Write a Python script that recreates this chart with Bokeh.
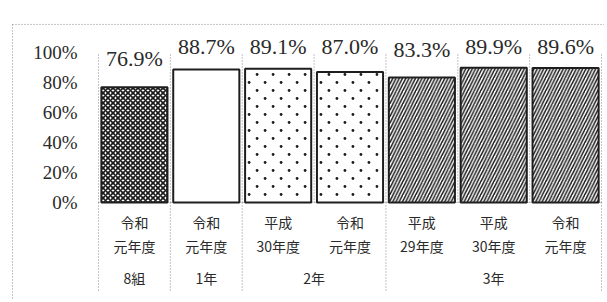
import numpy as np
from bokeh.plotting import figure
from bokeh.models import Range1d
from bokeh.core.properties import value
from bokeh.embed import file_html
from bokeh.resources import INLINE

# ---- data ----
row1 = ["令和", "令和", "平成", "令和", "平成", "平成", "令和"]
row2 = ["元年度", "元年度", "30年度", "元年度", "29年度", "30年度", "元年度"]
groups = ["8組", "1年", "2年", "3年"]
group_members = [[0], [1], [2, 3], [4, 5, 6]]
rates = [76.9, 88.7, 89.1, 87.0, 83.3, 89.9, 89.6]
rate_labels = ["76.9%", "88.7%", "89.1%", "87.0%", "83.3%", "89.9%", "89.6%"]
yticks = [0, 20, 40, 60, 80, 100]
ytick_labels = ["0%", "20%", "40%", "60%", "80%", "100%"]
patterns = ["x", " ", ".", ".", "/", "/", "/"]

n = len(rates)
xs = np.arange(n)
vals = np.array(rates)

W, H = 604, 300
px_per_cat = 71.86
px_per_pct = 1.5
x0 = -0.5 - 98 / px_per_cat
y1 = 202 / px_per_pct
ybot = y1 - H / px_per_pct
p = figure(width=W, height=H, output_backend="svg", toolbar_location=None,
           x_range=Range1d(x0, x0 + W / px_per_cat),
           y_range=Range1d(ybot, y1),
           min_border=0, outline_line_color=None)
p.axis.visible = False
p.grid.visible = False
p.background_fill_color = "white"
p.border_fill_color = "white"

dot = dict(line_color="#8a8a8a", line_width=1, line_dash="1 2")
serif = value("Liberation Serif")
cjk = value("Noto Sans CJK JP")

# outer frame (top and left)
top_v = 118.7
left_x = x0 + 12 / px_per_cat
p.segment(x0=[left_x], y0=[top_v], x1=[x0 + W / px_per_cat], y1=[top_v], **dot)
p.segment(x0=[left_x], y0=[top_v], x1=[left_x], y1=[ybot], **dot)

# separators in plot area
seps = np.arange(-0.5, n, 1.0)
p.segment(x0=seps, y0=[0] * len(seps), x1=seps, y1=[100] * len(seps), **dot)
# baseline
p.segment(x0=[-0.5], y0=[0], x1=[n - 0.5], y1=[0], **dot)
# table separators
tseps = [-0.5] + [max(m) + 0.5 for m in group_members]
p.segment(x0=tseps, y0=[0] * len(tseps), x1=tseps, y1=[-59.3] * len(tseps), **dot)

# bars
bw = 0.92
for i in range(n):
    kw = dict(fill_color="white", line_color="#1e1e1e", line_width=2)
    if patterns[i] == "x":
        kw.update(hatch_pattern="x", hatch_scale=5, hatch_weight=1.7, hatch_color="#1a1a1a")
    elif patterns[i] == "/":
        kw.update(hatch_pattern="/", hatch_scale=6.5, hatch_weight=1.5, hatch_color="#1a1a1a")
    p.vbar(x=[xs[i]], top=[vals[i]], bottom=0, width=bw, **kw)

# sparse staggered dot pattern for the dotted bars (8px pitch in screen space)
ddx = 8 / px_per_cat
ddy = 8 / px_per_pct
dx_pts, dy_pts = [], []
for i in range(n):
    if patterns[i] != ".":
        continue
    left, right = xs[i] - bw / 2, xs[i] + bw / 2
    for r, yy in enumerate(np.arange(4 / px_per_pct + ddy * 0.5, vals[i] - 2 / px_per_pct, ddy)):
        start = left + (ddx if r % 2 else 0) + 0.5 * ddx
        for xx in np.arange(start, right - 0.3 * ddx, 2 * ddx):
            dx_pts.append(xx)
            dy_pts.append(yy)
p.scatter(x=dx_pts, y=dy_pts, size=2.8, marker="circle", fill_color="#1e1e1e", line_color=None)

# value labels
label_y = np.minimum(vals + 19, 104)
p.text(x=xs, y=label_y, text=rate_labels, text_font=serif, text_font_size="22px",
       text_align="center", text_baseline="middle", text_color="#2a2a2a")

# y tick labels
p.text(x=[-0.5] * len(yticks), y=yticks, text=ytick_labels, x_offset=-21,
       text_font=serif, text_font_size="19px", text_align="right",
       text_baseline="middle", text_color="#2a2a2a")

# table text
p.text(x=xs, y=[-13.3] * n, text=row1, text_font=cjk, text_font_size="14px",
       text_align="center", text_baseline="middle", text_color="#2a2a2a")
p.text(x=xs, y=[-29.3] * n, text=row2, text_font=cjk, text_font_size="14px",
       text_align="center", text_baseline="middle", text_color="#2a2a2a")
gx = [float(np.mean(m)) for m in group_members]
p.text(x=gx, y=[-50] * len(groups), text=groups, text_font=cjk, text_font_size="14px",
       text_align="center", text_baseline="middle", text_color="#2a2a2a")

open("out.html", "w").write(file_html(p, INLINE))
